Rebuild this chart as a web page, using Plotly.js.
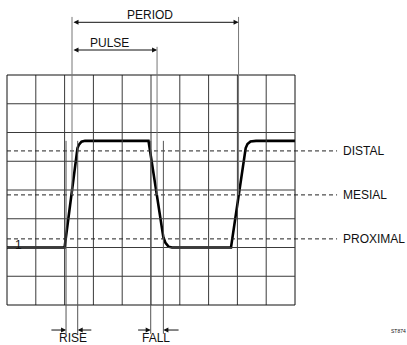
<!DOCTYPE html>
<html>
<head>
<meta charset="utf-8">
<script src="https://cdn.plot.ly/plotly-3.0.1.min.js"></script>
<style>html,body{margin:0;padding:0;background:#fff;}#chart{width:407px;height:345px;}</style>
</head>
<body>
<div id="chart"></div>
<script>
// Grid divisions
const gridX = [0,1,2,3,4,5,6,7,8,9,10];
const gridY = [0,1,2,3,4,5,6,7,8];

// Pulse waveform (divisions)
const waveX = [0, 2.0, 2.448, 2.50, 2.587, 2.708, 4.913, 5.427, 5.503, 5.608, 5.729, 7.778, 8.288, 8.35, 8.455, 8.646, 10];
const waveY = [2.0, 2.0, 5.46, 5.58, 5.68, 5.71, 5.71, 2.37, 2.16, 2.03, 2.0, 2.0, 5.46, 5.6, 5.69, 5.71, 5.71];

// Reference levels
const levelNames = ["DISTAL", "MESIAL", "PROXIMAL"];
const levelY = [5.36, 3.83, 2.30];

// Timing markers
const periodStart = 2.257, periodEnd = 8.04, pulseEnd = 5.21;
const riseX = [2.05, 2.455];
const fallX = [4.99, 5.43];
const highLevel = 5.71;

const fontFam = "Liberation Sans, Arial, Helvetica, sans-serif";
const shapes = [];
const ann = [];

gridX.forEach(x => shapes.push({type:"line", xref:"x", yref:"y", x0:x, x1:x, y0:0, y1:8,
  line:{color:(x===0||x===10)?"#111":"#3a3a3a", width:1}}));
gridY.forEach(y => shapes.push({type:"line", xref:"x", yref:"y", x0:0, x1:10, y0:y, y1:y,
  line:{color:(y===0||y===8)?"#111":"#3a3a3a", width:1}}));

// Reference level dashed lines
levelY.forEach((y,i) => {
  shapes.push({type:"line", xref:"x", yref:"y", x0:0, x1:11.46, y0:y, y1:y,
    line:{color:"#222", width:1, dash:"4px,3px"}});
  ann.push({x:11.6, y:y, xref:"x", yref:"y", text:levelNames[i], showarrow:false,
    xanchor:"left", yanchor:"middle", font:{family:fontFam, size:12, color:"#111"}});
});

// Vertical marker lines
const vline = (x,y0,y1,c) => shapes.push({type:"line", xref:"x", yref:"y", x0:x, x1:x, y0:y0, y1:y1,
  line:{color:c||"#777", width:1}});
vline(periodStart, levelY[1], 10.02);
vline(periodEnd, levelY[1], 10.02);
vline(pulseEnd, levelY[1], 8.98);
riseX.forEach(x => vline(x, highLevel, -1.0, "#555"));
fallX.forEach(x => vline(x, highLevel, -1.0, "#555"));

// Arrows
const arrow = (x, y, ax, ay, side) => ann.push({x:x, y:y, ax:ax, ay:ay, xref:"x", yref:"y", axref:"x", ayref:"y",
  text:"", showarrow:true, arrowhead:2, arrowsize:1, arrowwidth:1, arrowcolor:"#111", arrowside:side||"end"});
arrow(periodEnd, 9.833, periodStart, 9.833, "end+start");
arrow(pulseEnd, 8.87, periodStart, 8.87, "end+start");
arrow(riseX[0], -0.87, 1.49, -0.87);
arrow(riseX[1], -0.87, 2.98, -0.87);
arrow(fallX[0], -0.87, 4.50, -0.87);
arrow(fallX[1], -0.87, 6.01, -0.87);

// Labels
const label = (x, y, t, size) => ann.push({x:x, y:y, xref:"x", yref:"y", text:t, showarrow:false,
  xanchor:"center", yanchor:"middle", font:{family:fontFam, size:size||12, color:"#111"}});
label(4.95, 10.10, "PERIOD");
label(3.56, 9.11, "PULSE");
label(2.285, -1.16, "RISE");
label(5.18, -1.16, "FALL");
label(0.40, 2.08, "1");
label(13.58, -0.92, "ST874", 5);

const traces = [{x:waveX, y:waveY, mode:"lines", line:{color:"#000", width:2.6, shape:"linear"}, hoverinfo:"skip"}];

const layout = {
  width:407, height:345,
  margin:{l:0, r:0, t:0, b:0},
  paper_bgcolor:"#fff", plot_bgcolor:"#fff",
  showlegend:false,
  xaxis:{range:[-0.243, 13.889], visible:false, fixedrange:true},
  yaxis:{range:[-1.391, 10.609], visible:false, fixedrange:true},
  shapes:shapes, annotations:ann
};
Plotly.newPlot("chart", traces, layout, {displayModeBar:false, staticPlot:true});
</script>
</body>
</html>
